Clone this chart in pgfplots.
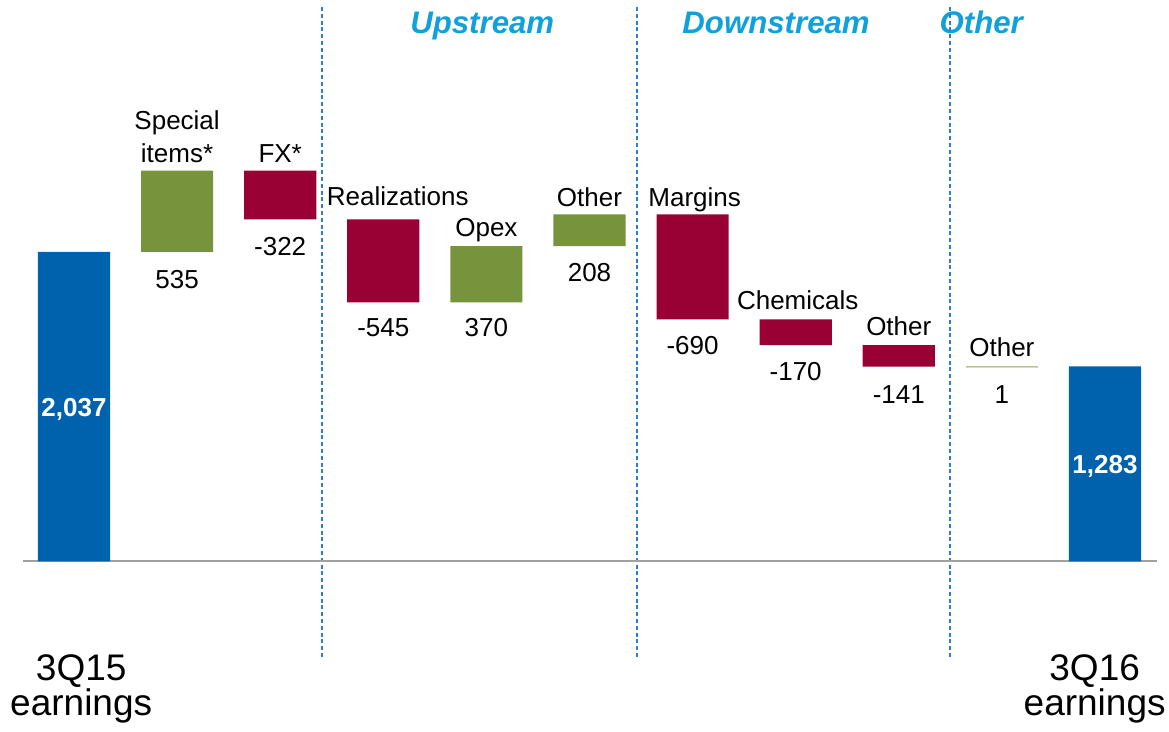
\documentclass[border=0pt]{standalone}
\usepackage{fontspec}
\setmainfont{Liberation Sans}
\usepackage{pgfplots}
\usepackage{pgfplotstable}
\pgfplotsset{compat=1.18}
\definecolor{BarBlue}{HTML}{0062AC}
\definecolor{Gain}{HTML}{77933C}
\definecolor{Loss}{HTML}{990033}
\definecolor{Head}{HTML}{10A0DA}
\definecolor{Sep}{HTML}{2E7DD1}
\definecolor{Base}{HTML}{A0A0A0}
\definecolor{Tiny}{HTML}{D9DCB9}

% earnings bridge: invisible base + visible piece
\pgfplotstableread{
x  base total up  down
0  0    2037  0   0
1  2037 0     535 0
2  2250 0     0   322
3  1705 0     0   545
4  1705 0     370 0
5  2075 0     208 0
6  1593 0     0   690
7  1423 0     0   170
8  1282 0     0   141
9  1282 0     1   0
10 0    1283  0   0
}\bridge

\newcommand\lab{\fontsize{13}{15}\selectfont}
\newcommand\inbar{\fontsize{13}{15}\selectfont\bfseries\color{white}}
\newcommand\capfont{\fontsize{18.5}{22}\selectfont}
\newcommand\sect{\fontsize{15.6}{18}\selectfont\bfseries\itshape\color{Head}}

\begin{document}
\begin{tikzpicture}
\begin{axis}[
    name=ax,
    scale only axis,
    width=584.5pt, height=366pt,
    xmin=-0.7177, xmax=10.621,
    ymin=-1121.7, ymax=3694.1,
    hide axis, clip=false,
    ybar stacked, bar width=0.7
  ]
  \addplot[draw=none, fill=none] table[x=x, y=base] {\bridge};
  \addplot[draw=none, fill=BarBlue] table[x=x, y=total] {\bridge};
  \addplot[draw=none, fill=Gain] table[x=x, y=up] {\bridge};
  \addplot[draw=none, fill=Loss] table[x=x, y=down] {\bridge};

  % zero line, section separators, the 1-unit bar outline
  \draw[Base, line width=1pt] (axis cs:-0.495,0) -- (axis cs:10.50,0);
  \draw[Sep, line width=0.8pt, dash pattern=on 2pt off 1.4pt]
    (axis cs:2.405,3648) -- (axis cs:2.405,-628);
  \draw[Sep, line width=0.8pt, dash pattern=on 2pt off 1.4pt]
    (axis cs:5.461,3648) -- (axis cs:5.461,-628);
  \draw[Sep, line width=0.8pt, dash pattern=on 2pt off 1.4pt]
    (axis cs:8.494,3648) -- (axis cs:8.494,-628);
  \draw[Tiny, line width=1pt] (axis cs:8.65,1282.5) -- (axis cs:9.35,1282.5);

  % section headings
  \node[anchor=base, font=\sect] at (axis cs:3.96,3476) {Upstream};
  \node[anchor=base, font=\sect] at (axis cs:6.81,3476) {Downstream};
  \node[anchor=base, font=\sect] at (axis cs:8.80,3476) {Other};

  % bar labels
  \node[anchor=base, font=\lab] at (axis cs:1,2845) {Special};
  \node[anchor=base, font=\lab] at (axis cs:1,2628) {items*};
  \node[anchor=base, font=\lab] at (axis cs:1,1799) {535};
  \node[anchor=base, font=\lab] at (axis cs:2,2628) {FX*};
  \node[anchor=base, font=\lab] at (axis cs:2,2010) {-322};
  \node[anchor=base, font=\lab] at (axis cs:3.14,2345) {Realizations};
  \node[anchor=base, font=\lab] at (axis cs:3,1479) {-545};
  \node[anchor=base, font=\lab] at (axis cs:4,2135) {Opex};
  \node[anchor=base, font=\lab] at (axis cs:4,1479) {370};
  \node[anchor=base, font=\lab] at (axis cs:5,2334) {Other};
  \node[anchor=base, font=\lab] at (axis cs:5,1841) {208};
  \node[anchor=base, font=\lab] at (axis cs:6.02,2334) {Margins};
  \node[anchor=base, font=\lab] at (axis cs:6,1359) {-690};
  \node[anchor=base, font=\lab] at (axis cs:7.02,1659) {Chemicals};
  \node[anchor=base, font=\lab] at (axis cs:7,1189) {-170};
  \node[anchor=base, font=\lab] at (axis cs:8,1486) {Other};
  \node[anchor=base, font=\lab] at (axis cs:8,1041) {-141};
  \node[anchor=base, font=\lab] at (axis cs:9,1347) {Other};
  \node[anchor=base, font=\lab] at (axis cs:9,1041) {1};
  \coordinate (startlab) at (axis cs:0,953);
  \coordinate (endlab) at (axis cs:10,580);

  % end labels
  \node[anchor=base, font=\capfont] at (axis cs:0.07,-786) {3Q15};
  \node[anchor=base, font=\capfont] at (axis cs:0.07,-1010) {earnings};
  \node[anchor=base, font=\capfont] at (axis cs:9.90,-786) {3Q16};
  \node[anchor=base, font=\capfont] at (axis cs:9.90,-1010) {earnings};
\end{axis}
% totals written on top of the blue bars
\node[anchor=base, font=\inbar] at (startlab) {2,037};
\node[anchor=base, font=\inbar] at (endlab) {1,283};
\pgfresetboundingbox
\path (ax.south west) rectangle (ax.north east);
\end{tikzpicture}
\end{document}
